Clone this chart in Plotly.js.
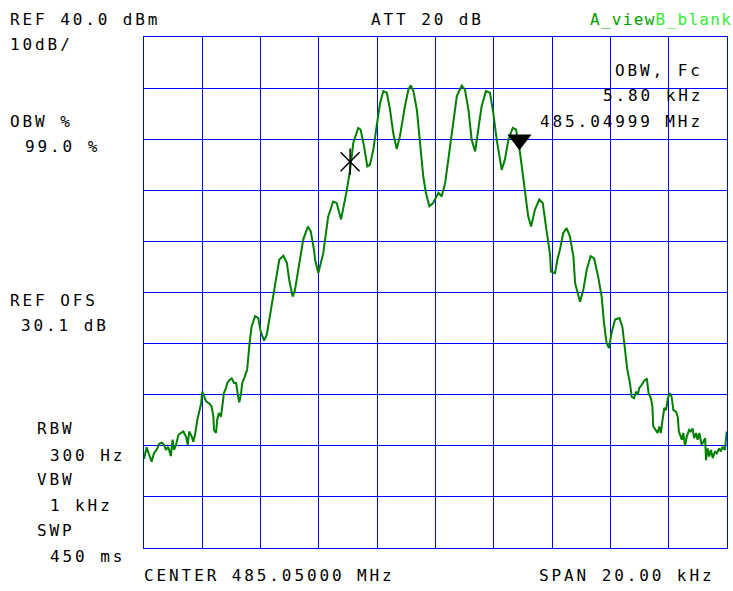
<!DOCTYPE html>
<html>
<head>
<meta charset="utf-8">
<script src="https://cdn.plot.ly/plotly-3.0.1.min.js"></script>
<style>
  html, body { margin: 0; padding: 0; background: #ffffff; }
  #chart { width: 733px; height: 591px; }
  .annotation-text { letter-spacing: 2.9px; }
</style>
</head>
<body>
<div id="chart"></div>
<script>
// Frequency offset from center (kHz) and level (dBm)
const freqKHz = [
  -10.00, -9.91, -9.82, -9.74, -9.66, -9.59, -9.54, -9.48, -9.39, -9.31,
  -9.25, -9.17, -9.08, -9.02, -8.97, -8.90, -8.82, -8.74, -8.65, -8.56,
  -8.50, -8.45, -8.36, -8.31, -8.25, -8.17, -8.10, -8.04, -8.00, -7.93,
  -7.87, -7.76, -7.68, -7.62, -7.60, -7.53, -7.49, -7.43, -7.36, -7.30,
  -7.26, -7.19, -7.14, -7.07, -6.99, -6.91, -6.84, -6.77, -6.73, -6.67,
  -6.63, -6.54, -6.46, -6.39, -6.31, -6.19, -6.08, -6.00, -5.88, -5.79,
  -5.68, -5.56, -5.47, -5.36, -5.22, -5.10, -5.02, -4.90, -4.82, -4.71,
  -4.59, -4.54, -4.38, -4.28, -4.17, -4.13, -4.02, -3.85, -3.79, -3.68,
  -3.51, -3.39, -3.24, -3.14, -3.05, -2.93, -2.82, -2.65, -2.57, -2.45,
  -2.34, -2.25, -2.13, -2.02, -1.90, -1.79, -1.67, -1.56, -1.45, -1.33,
  -1.22, -1.05, -0.93, -0.85, -0.76, -0.64, -0.53, -0.42, -0.33, -0.21,
  -0.08, 0.10, 0.21, 0.33, 0.44, 0.61, 0.73, 0.90, 1.01, 1.13,
  1.24, 1.36, 1.47, 1.58, 1.73, 1.87, 1.98, 2.10, 2.27, 2.38,
  2.50, 2.65, 2.76, 2.87, 2.96, 3.07, 3.18, 3.28, 3.41, 3.56,
  3.68, 3.79, 3.93, 3.96, 4.10, 4.18, 4.27, 4.38, 4.50, 4.61,
  4.73, 4.79, 4.96, 5.07, 5.19, 5.32, 5.44, 5.58, 5.70, 5.78,
  5.87, 5.95, 6.04, 6.16, 6.31, 6.41, 6.50, 6.58, 6.67, 6.73,
  6.81, 6.88, 6.94, 6.99, 7.07, 7.15, 7.25, 7.31, 7.39, 7.44,
  7.47, 7.56, 7.62, 7.68, 7.73, 7.79, 7.85, 7.91, 7.97, 8.04,
  8.10, 8.16, 8.25, 8.31, 8.35, 8.45, 8.50, 8.56, 8.62, 8.70,
  8.75, 8.82, 8.87, 8.94, 8.99, 9.05, 9.13, 9.19, 9.25, 9.28,
  9.34, 9.39, 9.45, 9.51, 9.59, 9.65, 9.73, 9.79, 9.85, 9.93,
  9.99
];
const levelDBm = [
  -42.6, -40.3, -41.8, -43.1, -41.5, -40.8, -40.5, -39.6, -39.4, -39.8,
  -40.8, -40.2, -42.0, -38.8, -40.8, -39.8, -37.9, -37.5, -37.2, -38.2,
  -39.8, -37.2, -38.2, -39.2, -37.9, -34.9, -33.0, -31.7, -29.4, -30.4,
  -31.3, -31.7, -32.3, -34.3, -36.9, -37.5, -34.9, -33.6, -34.3, -31.7,
  -29.7, -28.7, -27.7, -27.1, -26.8, -27.7, -27.7, -30.4, -31.5, -29.7,
  -27.7, -26.4, -25.1, -20.6, -16.7, -14.6, -15.0, -17.6, -19.4, -18.3,
  -14.7, -10.8, -7.5, -3.6, -2.8, -4.2, -7.5, -10.8, -9.5, -5.5,
  -1.6, 0.3, 2.9, 2.0, -1.6, -3.6, -6.2, -2.3, 0.3, 4.9,
  7.8, 7.5, 4.3, 6.9, 9.8, 14.0, 19.3, 22.2, 21.9, 18.6,
  14.7, 15.0, 18.0, 22.5, 27.1, 29.4, 29.1, 25.8, 21.2, 18.1,
  20.6, 26.4, 29.7, 30.5, 29.4, 25.8, 19.3, 12.7, 9.5, 6.9,
  7.5, 9.5, 8.8, 11.4, 16.0, 23.8, 28.4, 30.5, 29.7, 25.8,
  19.9, 17.6, 21.9, 26.4, 29.4, 29.1, 25.2, 19.9, 14.0, 16.0,
  19.9, 22.2, 21.9, 18.6, 14.7, 10.1, 4.9, 2.9, 6.2, 8.2,
  7.5, 2.9, -2.6, -5.9, -6.2, -3.6, -1.6, 1.6, 2.6, 1.0,
  -2.9, -8.2, -11.8, -9.5, -5.5, -2.9, -3.3, -6.9, -10.8, -16.0,
  -19.9, -20.9, -17.9, -15.3, -15.0, -16.7, -21.2, -25.1, -27.7, -30.4,
  -30.7, -29.4, -30.0, -28.7, -28.1, -27.4, -26.8, -29.7, -30.7, -32.3,
  -36.2, -36.9, -37.5, -36.2, -37.5, -34.9, -32.6, -33.0, -30.7, -29.7,
  -30.4, -33.0, -33.3, -34.3, -37.2, -38.8, -37.5, -40.0, -38.2, -36.9,
  -37.2, -36.6, -38.5, -37.5, -38.8, -37.5, -39.8, -39.2, -38.5, -42.8,
  -40.5, -42.1, -40.8, -42.4, -41.1, -41.5, -40.5, -41.1, -40.2, -40.8,
  -37.2
];

// OBW markers (left edge asterisk, right edge triangle)
const markerFreqKHz = [-2.93, 2.88];
const markerLevelDBm = [15.6, 19.9];

// Axis settings
const refLevel = 40;      // REF 40.0 dBm
const dbPerDiv = 10;      // 10dB/
const spanKHz = 20;       // SPAN 20.00 kHz

// Screen texts
const leftTexts = [
  ['REF 40.0 dBm', 10, 19],
  ['10dB/', 10, 44.5],
  ['OBW %', 10, 121.7],
  ['99.0 %', 25, 146],
  ['ATT 20 dB', 371, 19.5],
  ['REF OFS', 10, 300],
  ['30.1 dB', 21, 325],
  ['RBW', 37, 428.5],
  ['300 Hz', 50, 455.5],
  ['VBW', 37, 479],
  ['1 kHz', 50, 505.5],
  ['SWP', 37, 530],
  ['450 ms', 50, 556],
  ['CENTER 485.05000 MHz', 144, 575],
  ['SPAN 20.00 kHz', 539, 575]
];
const rightTexts = [
  ['OBW, Fc', 700, 70.5],
  ['5.80 kHz', 700, 95.5],
  ['485.04999 MHz', 700, 121]
];

const L = 144, T = 37;
const font = {family: 'DejaVu Sans Mono', size: 16, color: '#000000'};
const annotations = [];
leftTexts.forEach(([t, x, y]) => annotations.push({
  text: t, xref: 'paper', yref: 'paper', x: 0, y: 1,
  xanchor: 'left', yanchor: 'middle', showarrow: false,
  xshift: x - L - 1, yshift: -(y - T), font: font, borderpad: 0
}));
rightTexts.forEach(([t, x, y]) => annotations.push({
  text: t, xref: 'paper', yref: 'paper', x: 0, y: 1,
  xanchor: 'right', yanchor: 'middle', showarrow: false,
  xshift: x - L + 3.5, yshift: -(y - T), font: font, borderpad: 0
}));
annotations.push({
  text: '<span style="letter-spacing:1.3px;fill:#00a000">A_view</span><span style="letter-spacing:1.3px;fill:#33ee33">B_blank</span>',
  xref: 'paper', yref: 'paper', x: 0, y: 1,
  xanchor: 'left', yanchor: 'middle', showarrow: false,
  xshift: 590 - L - 1, yshift: -(19.5 - T), font: {family: 'DejaVu Sans Mono', size: 16, color: '#00a000'}, borderpad: 0
});

const traces = [
  {
    x: freqKHz, y: levelDBm, type: 'scatter', mode: 'lines',
    line: {color: '#008000', width: 2}, cliponaxis: false
  },
  {
    x: [markerFreqKHz[0]], y: [markerLevelDBm[0]], type: 'scatter', mode: 'markers',
    marker: {symbol: 'x-thin-open', size: 19, color: '#000000', line: {color: '#000000', width: 1.5}}
  },
  {
    x: [markerFreqKHz[0]], y: [markerLevelDBm[0]], type: 'scatter', mode: 'markers',
    marker: {symbol: 'line-ns-open', size: 19, color: '#000000', line: {color: '#000000', width: 1.5}}
  },
  {
    x: [markerFreqKHz[1]], y: [markerLevelDBm[1]], type: 'scatter', mode: 'markers',
    marker: {symbol: 'triangle-down', size: 21, color: '#000000', line: {width: 0}}
  }
];

const axisCommon = {
  showgrid: true, gridcolor: '#0000ff', gridwidth: 1,
  zeroline: false, showticklabels: false, ticks: '',
  showline: true, mirror: true, linecolor: '#0000ff', linewidth: 1,
  fixedrange: true
};

const layout = {
  width: 733, height: 591,
  margin: {l: 144, r: 6, t: 37, b: 43, pad: 0},
  paper_bgcolor: '#ffffff', plot_bgcolor: '#ffffff',
  showlegend: false, hovermode: false,
  font: font,
  xaxis: Object.assign({}, axisCommon, {range: [-spanKHz / 2, spanKHz / 2], dtick: spanKHz / 10, tick0: 0}),
  yaxis: Object.assign({}, axisCommon, {range: [refLevel - 10 * dbPerDiv, refLevel], dtick: dbPerDiv, tick0: 0}),
  annotations: annotations
};

Plotly.newPlot('chart', traces, layout, {staticPlot: true, displayModeBar: false});
</script>
</body>
</html>
